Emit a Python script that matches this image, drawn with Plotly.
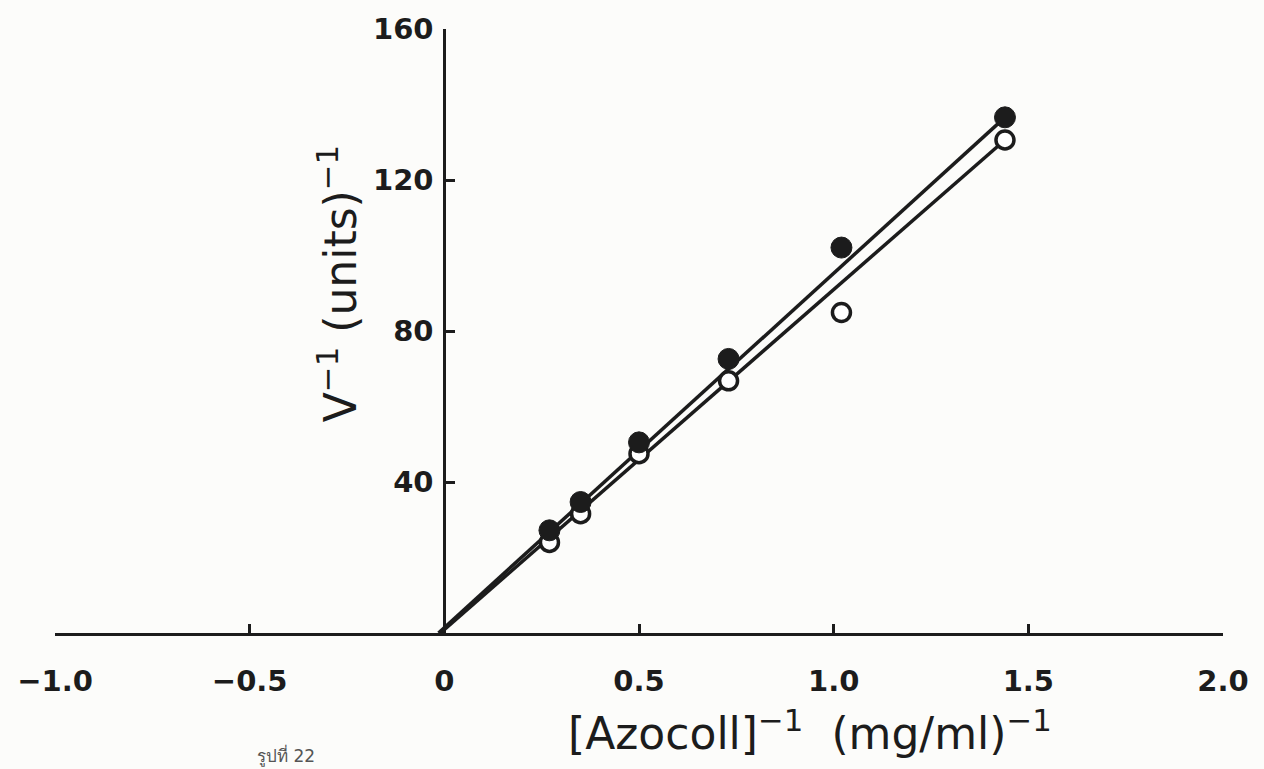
import plotly.graph_objects as go

# Data (Lineweaver-Burk plot)
x_inv_substrate = [0.27, 0.35, 0.50, 0.73, 1.02, 1.44]
filled_inv_v = [27.2, 34.7, 50.5, 72.6, 102.1, 136.6]
open_inv_v = [24.0, 31.6, 47.5, 66.8, 84.9, 130.6]

filled_fit_x = [-0.015, 1.44]
filled_fit_y = [0.0, 136.6]
open_fit_x = [-0.01, 1.44]
open_fit_y = [0.0, 130.6]

x_tick_vals = [-1.0, -0.5, 0.0, 0.5, 1.0, 1.5, 2.0]
x_tick_text = ["−1.0", "−0.5", "0", "0.5", "1.0", "1.5", "2.0"]
y_tick_vals = [40, 80, 120, 160]
y_tick_text = ["40", "80", "120", "160"]

INK = "#1c1c1c"

fig = go.Figure()
fig.add_trace(go.Scatter(x=filled_fit_x, y=filled_fit_y, mode="lines",
                         line=dict(color=INK, width=3.5), showlegend=False, cliponaxis=False))
fig.add_trace(go.Scatter(x=open_fit_x, y=open_fit_y, mode="lines",
                         line=dict(color=INK, width=3.5), showlegend=False, cliponaxis=False))
fig.add_trace(go.Scatter(x=x_inv_substrate, y=open_inv_v, mode="markers",
                         marker=dict(symbol="circle", size=18, color="white",
                                     line=dict(color=INK, width=3.5)),
                         showlegend=False, cliponaxis=False))
fig.add_trace(go.Scatter(x=x_inv_substrate, y=filled_inv_v, mode="markers",
                         marker=dict(symbol="circle", size=21, color=INK,
                                     line=dict(color=INK, width=1)),
                         showlegend=False, cliponaxis=False))

tickfont = dict(family="DejaVu Sans", size=29, color=INK, weight="bold")

fig.update_layout(
    width=1264, height=769,
    margin=dict(l=55, r=41, t=20, b=136),
    paper_bgcolor="#fcfcfa", plot_bgcolor="#fcfcfa",
    xaxis=dict(range=[-1.0, 2.0], domain=[0, 1], anchor="y",
               showline=True, linewidth=3, linecolor=INK,
               ticks="inside", ticklen=9, tickwidth=3, tickcolor=INK,
               tickmode="array", tickvals=x_tick_vals, ticktext=x_tick_text,
               tickfont=tickfont, ticklabelstandoff=20,
               showgrid=False, zeroline=False),
    yaxis=dict(range=[0, 160], anchor="free", position=1/3,
               showline=True, linewidth=3, linecolor=INK,
               ticks="inside", ticklen=9, tickwidth=3, tickcolor=INK,
               tickmode="array", tickvals=y_tick_vals, ticktext=y_tick_text,
               tickfont=tickfont, ticklabelstandoff=4,
               showgrid=False, zeroline=False),
    annotations=[
        dict(text="V<sup>−1</sup> (units)<sup>−1</sup>", textangle=-90,
             xref="paper", yref="paper", x=0.2414, y=0.579,
             xanchor="center", yanchor="middle", showarrow=False,
             font=dict(family="DejaVu Sans", size=44, color=INK)),
        dict(text="[Azocoll]<sup>−1</sup>  (mg/ml)<sup>−1</sup>",
             xref="paper", yref="paper", x=0.646, y=-0.162,
             xanchor="center", yanchor="middle", showarrow=False,
             font=dict(family="DejaVu Sans", size=44, color=INK)),
        dict(text="รูปที่ 22",
             xref="paper", yref="paper", x=0.171, y=-0.203,
             xanchor="left", yanchor="middle", showarrow=False,
             font=dict(family="DejaVu Sans", size=17, color="#555555")),
    ],
)

fig.write_html("out.html")
